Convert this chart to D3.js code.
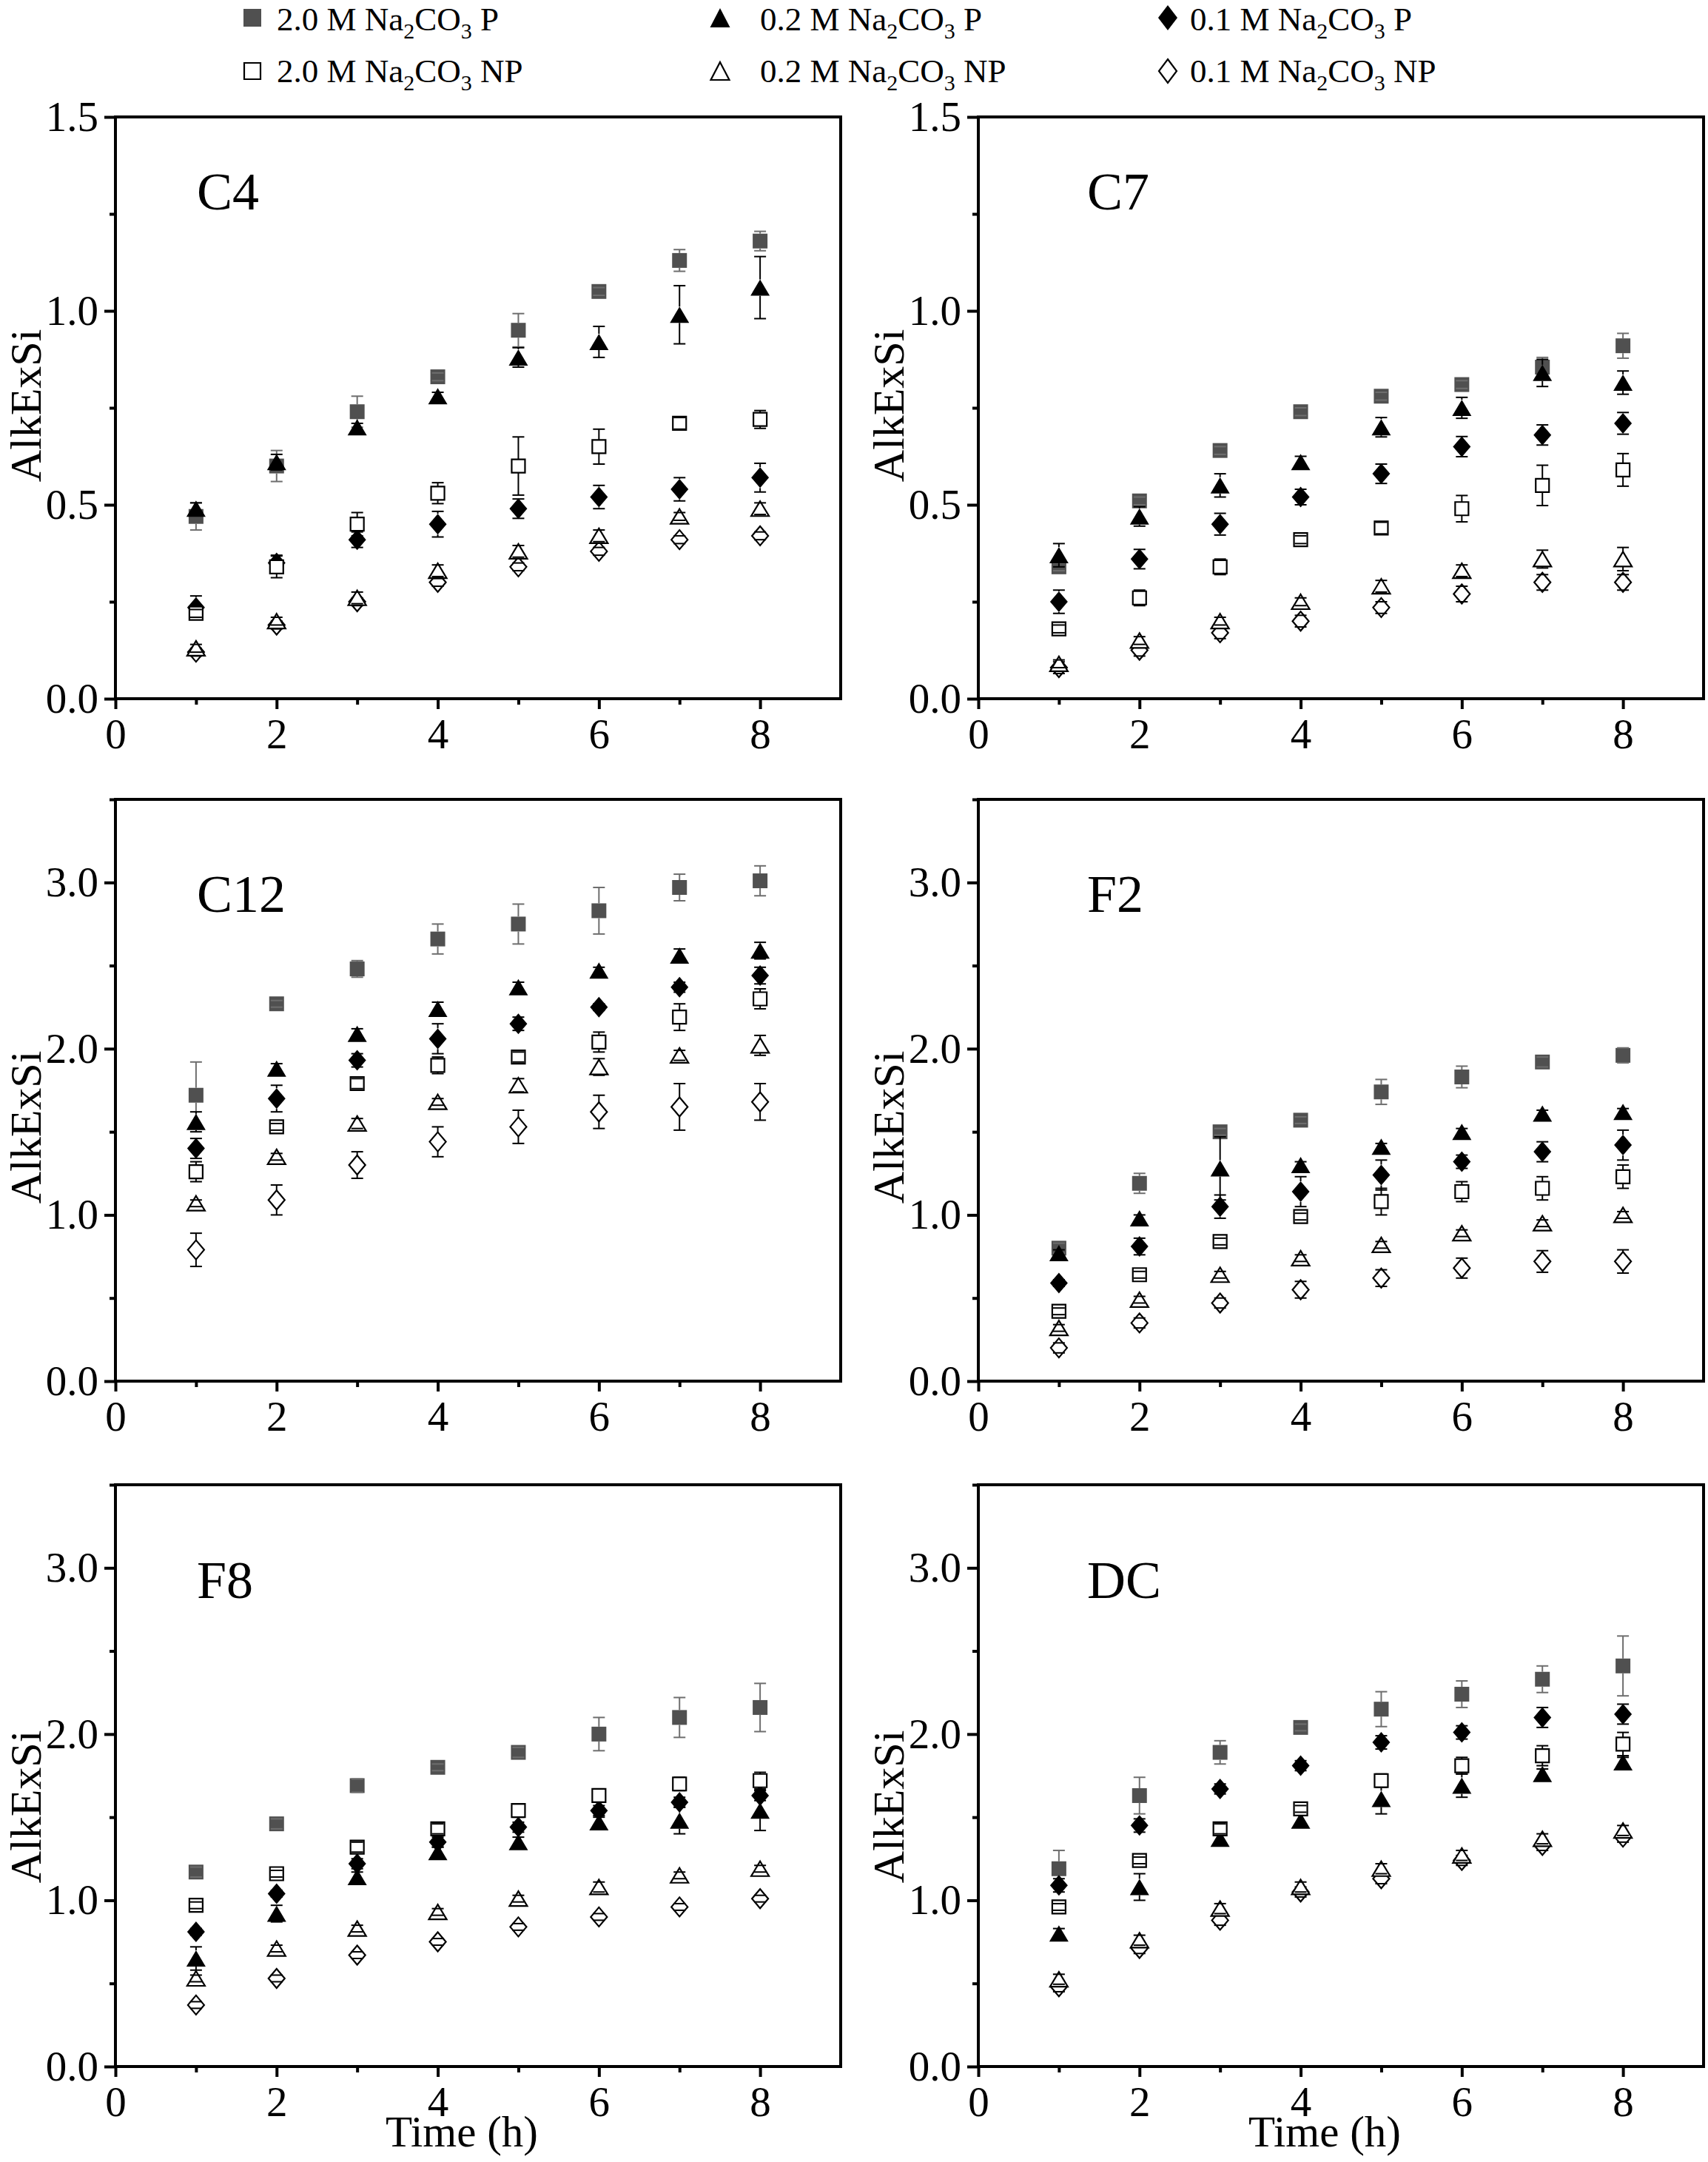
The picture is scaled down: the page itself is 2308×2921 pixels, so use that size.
<!DOCTYPE html>
<html><head><meta charset="utf-8">
<script src="https://cdn.jsdelivr.net/npm/d3@7"></script>
<style>
body{margin:0;background:#fff}
svg, svg text{font-family:"Liberation Serif","Times New Roman",serif;fill:#000}
</style>
</head><body>
<svg id="c" width="2308" height="2921" font-family="Liberation Serif, Times New Roman, serif"></svg>
<script>
// ---------- DATA ----------
const hours = [1, 2, 3, 4, 5, 6, 7, 8];
const seriesConc = ["2.0", "0.2", "0.1", "2.0", "0.2", "0.1"];
const seriesType = ["P", "P", "P", "NP", "NP", "NP"];
const panelNames = ["C4", "C7", "C12", "F2", "F8", "DC"];
const panelYMax = [1.5, 1.5, 3.5, 3.5, 3.5, 3.5];
const smallYTicks = [0, 0.5, 1.0, 1.5];
const smallYMinor = [0.25, 0.75, 1.25];
const largeYTicks = [0, 1, 2, 3];
const largeYMinor = [0.5, 1.5, 2.5, 3.5];
const xTicks = [0, 2, 4, 6, 8];
const xMinor = [1, 3, 5, 7];
const yTitle = "AlkExSi";
const xTitle = "Time (h)";

// series order: 2.0P, 0.2P, 0.1P, 2.0NP, 0.2NP, 0.1NP
const c4Mean = [
  [0.47, 0.60, 0.74, 0.83, 0.95, 1.05, 1.13, 1.18],
  [0.49, 0.61, 0.70, 0.78, 0.88, 0.92, 0.99, 1.06],
  [0.235, 0.35, 0.41, 0.45, 0.49, 0.52, 0.54, 0.57],
  [0.22, 0.34, 0.45, 0.53, 0.60, 0.65, 0.71, 0.72],
  [0.13, 0.20, 0.26, 0.33, 0.38, 0.42, 0.47, 0.49],
  [0.12, 0.19, 0.25, 0.30, 0.34, 0.38, 0.41, 0.42]];
const c4Err = [
  [0.035, 0.04, 0.04, 0.01, 0.043, 0.01, 0.028, 0.025],
  [0.015, 0.02, 0.01, 0.01, 0.025, 0.04, 0.075, 0.08],
  [0.03, 0.02, 0.02, 0.033, 0.025, 0.03, 0.03, 0.037],
  [0.01, 0.028, 0.03, 0.027, 0.075, 0.045, 0.015, 0.023],
  [0.01, 0.01, 0.015, 0.015, 0.015, 0.015, 0.01, 0.015],
  [0.01, 0.01, 0.01, 0.01, 0.01, 0.01, 0.01, 0.01]];
const c7Mean = [
  [0.34, 0.51, 0.64, 0.74, 0.78, 0.81, 0.855, 0.91],
  [0.37, 0.47, 0.55, 0.61, 0.70, 0.75, 0.84, 0.815],
  [0.25, 0.36, 0.45, 0.52, 0.58, 0.65, 0.68, 0.71],
  [0.18, 0.26, 0.34, 0.41, 0.44, 0.49, 0.55, 0.59],
  [0.09, 0.15, 0.20, 0.25, 0.29, 0.33, 0.36, 0.36],
  [0.08, 0.125, 0.17, 0.20, 0.235, 0.27, 0.30, 0.30]];
const c7Err = [
  [0.01, 0.01, 0.01, 0.01, 0.01, 0.01, 0.025, 0.032],
  [0.03, 0.025, 0.03, 0.015, 0.025, 0.027, 0.035, 0.03],
  [0.03, 0.025, 0.028, 0.02, 0.025, 0.026, 0.026, 0.028],
  [0.01, 0.02, 0.02, 0.01, 0.015, 0.034, 0.052, 0.042],
  [0.01, 0.01, 0.01, 0.01, 0.015, 0.015, 0.023, 0.03],
  [0.015, 0.015, 0.015, 0.015, 0.015, 0.02, 0.02, 0.02]];
const c12Mean = [
  [1.72, 2.27, 2.48, 2.66, 2.75, 2.83, 2.97, 3.01],
  [1.56, 1.88, 2.09, 2.24, 2.37, 2.47, 2.56, 2.59],
  [1.40, 1.70, 1.93, 2.06, 2.15, 2.25, 2.37, 2.44],
  [1.26, 1.53, 1.79, 1.90, 1.95, 2.04, 2.19, 2.30],
  [1.07, 1.35, 1.55, 1.68, 1.78, 1.89, 1.96, 2.02],
  [0.79, 1.09, 1.30, 1.44, 1.53, 1.62, 1.65, 1.68]];
const c12Err = [
  [0.2, 0.02, 0.05, 0.09, 0.12, 0.14, 0.08, 0.09],
  [0.06, 0.03, 0.03, 0.04, 0.03, 0.02, 0.04, 0.05],
  [0.06, 0.08, 0.04, 0.09, 0.04, 0.02, 0.03, 0.05],
  [0.06, 0.02, 0.03, 0.05, 0.03, 0.06, 0.08, 0.06],
  [0.02, 0.02, 0.03, 0.02, 0.04, 0.05, 0.03, 0.06],
  [0.1, 0.09, 0.08, 0.09, 0.1, 0.1, 0.14, 0.11]];
const f2Mean = [
  [0.80, 1.19, 1.50, 1.57, 1.74, 1.83, 1.92, 1.96],
  [0.77, 0.98, 1.28, 1.30, 1.41, 1.50, 1.61, 1.62],
  [0.59, 0.81, 1.05, 1.14, 1.24, 1.32, 1.38, 1.42],
  [0.42, 0.64, 0.84, 0.99, 1.08, 1.14, 1.16, 1.23],
  [0.32, 0.49, 0.64, 0.74, 0.82, 0.89, 0.95, 1.00],
  [0.20, 0.35, 0.47, 0.55, 0.62, 0.68, 0.72, 0.72]];
const f2Err = [
  [0.03, 0.06, 0.02, 0.02, 0.075, 0.065, 0.03, 0.045],
  [0.02, 0.02, 0.19, 0.02, 0.02, 0.02, 0.02, 0.02],
  [0.02, 0.05, 0.07, 0.09, 0.09, 0.04, 0.06, 0.09],
  [0.02, 0.02, 0.02, 0.02, 0.08, 0.06, 0.07, 0.07],
  [0.02, 0.02, 0.02, 0.02, 0.02, 0.02, 0.02, 0.02],
  [0.03, 0.03, 0.03, 0.05, 0.05, 0.06, 0.065, 0.07]];
const f8Mean = [
  [1.17, 1.46, 1.69, 1.80, 1.89, 2.00, 2.10, 2.16],
  [0.65, 0.92, 1.14, 1.29, 1.35, 1.47, 1.48, 1.54],
  [0.81, 1.04, 1.22, 1.35, 1.44, 1.54, 1.59, 1.63],
  [0.97, 1.16, 1.32, 1.43, 1.54, 1.63, 1.70, 1.72],
  [0.53, 0.71, 0.83, 0.93, 1.01, 1.08, 1.15, 1.19],
  [0.37, 0.53, 0.67, 0.75, 0.84, 0.90, 0.96, 1.01]];
const f8Err = [
  [0.03, 0.03, 0.04, 0.02, 0.03, 0.1, 0.12, 0.145],
  [0.07, 0.05, 0.03, 0.03, 0.03, 0.03, 0.08, 0.12],
  [0.02, 0.02, 0.03, 0.03, 0.03, 0.03, 0.03, 0.03],
  [0.02, 0.02, 0.03, 0.03, 0.04, 0.04, 0.04, 0.05],
  [0.02, 0.02, 0.02, 0.02, 0.02, 0.03, 0.02, 0.02],
  [0.02, 0.02, 0.02, 0.02, 0.02, 0.02, 0.02, 0.02]];
const dcMean = [
  [1.19, 1.63, 1.89, 2.04, 2.15, 2.24, 2.33, 2.41],
  [0.80, 1.08, 1.37, 1.48, 1.61, 1.69, 1.76, 1.83],
  [1.09, 1.45, 1.67, 1.81, 1.95, 2.01, 2.10, 2.12],
  [0.96, 1.24, 1.43, 1.55, 1.72, 1.81, 1.87, 1.94],
  [0.525, 0.76, 0.95, 1.08, 1.19, 1.27, 1.37, 1.42],
  [0.48, 0.71, 0.88, 1.05, 1.13, 1.24, 1.33, 1.38]];
const dcErr = [
  [0.11, 0.11, 0.07, 0.02, 0.105, 0.08, 0.08, 0.18],
  [0.03, 0.08, 0.02, 0.03, 0.09, 0.07, 0.03, 0.03],
  [0.04, 0.04, 0.03, 0.03, 0.04, 0.04, 0.06, 0.06],
  [0.02, 0.02, 0.03, 0.02, 0.04, 0.05, 0.06, 0.07],
  [0.03, 0.03, 0.03, 0.03, 0.03, 0.03, 0.03, 0.03],
  [0.03, 0.03, 0.03, 0.03, 0.03, 0.03, 0.03, 0.03]];

const panelMeans = [c4Mean, c7Mean, c12Mean, f2Mean, f8Mean, dcMean];
const panelErrs = [c4Err, c7Err, c12Err, f2Err, f8Err, dcErr];

// ---------- STYLE / LAYOUT ----------
const FONT = "Liberation Serif, Times New Roman, serif";
const styles = [
  {shape: "square", fill: "#505050", stroke: "none", bar: "#6e6e6e", w: 20, h: 20},
  {shape: "triangle", fill: "#000", stroke: "none", bar: "#000", w: 26, h: 22},
  {shape: "diamond", fill: "#000", stroke: "none", bar: "#000", w: 24, h: 28},
  {shape: "square", fill: "#fff", stroke: "#000", bar: "#000", w: 18, h: 18},
  {shape: "triangle", fill: "#fff", stroke: "#000", bar: "#000", w: 24, h: 20},
  {shape: "diamond", fill: "#fff", stroke: "#000", bar: "#000", w: 22, h: 26}];
const drawOrder = [0, 1, 2, 3, 5, 4];

const colLeft = [156, 1322], colWidth = 980;
const rowTop = [158, 1080, 2006], rowHeight = 786;
const labelDx = [110, 147];
const labelDy = [125, 152, 153];
const titleDy = [-3, 50, 42];
const tickFont = 57;

function shapePath(shape, w, h) {
  const a = w / 2, b = h / 2;
  if (shape === "square") return `M${-a},${-b}H${a}V${b}H${-a}Z`;
  if (shape === "triangle") return `M0,${-b}L${a},${b}L${-a},${b}Z`;
  return `M0,${-b}L${a},0L0,${b}L${-a},0Z`;
}

const svg = d3.select("#c");

// ---------- LEGEND ----------
const legCol = [341, 973, 1578];
const legTextX = [374, 1027, 1608];
const legRow = [24, 96];
const legBase = [41, 111];
const legSize = [{w: 24, h: 24}, {w: 27, h: 26}, {w: 26, h: 34}];
seriesConc.forEach((c, i) => {
  const col = i % 3, row = Math.floor(i / 3);
  const st = styles[i];
  svg.append("path")
    .attr("d", shapePath(st.shape, legSize[col].w - (row ? 2 : 0), legSize[col].h - (row ? 2 : 0)))
    .attr("transform", `translate(${legCol[col]},${legRow[row]})`)
    .attr("fill", st.fill).attr("stroke", st.stroke).attr("stroke-width", 2.2);
  const t = svg.append("text").attr("x", legTextX[col]).attr("y", legBase[row])
    .attr("font-family", FONT).attr("font-size", 45);
  t.append("tspan").text(`${c} M Na`);
  t.append("tspan").attr("font-size", 30).attr("dy", 11).text("2");
  t.append("tspan").attr("dy", -11).text("CO");
  t.append("tspan").attr("font-size", 30).attr("dy", 11).text("3");
  t.append("tspan").attr("dy", -11).text(` ${seriesType[i]}`);
});

// ---------- PANELS ----------
panelNames.forEach((name, pi) => {
  const col = pi % 2, row = Math.floor(pi / 2);
  const L = colLeft[col], T = rowTop[row];
  const x = d3.scaleLinear().domain([0, 9]).range([L, L + colWidth]);
  const y = d3.scaleLinear().domain([0, panelYMax[pi]]).range([T + rowHeight, T]);
  const small = panelYMax[pi] < 2;
  const g = svg.append("g");

  function styleAxis(a, labelled) {
    a.attr("font-family", FONT).attr("font-size", tickFont);
    a.select(".domain").remove();
    a.selectAll("line").attr("stroke", "#000").attr("stroke-width", 4);
    if (labelled) a.selectAll("text").attr("font-size", tickFont).attr("font-family", FONT).attr("fill", "#000");
  }

  // y axis
  const ya = g.append("g").attr("transform", `translate(${L},0)`)
    .call(d3.axisLeft(y).tickValues(small ? smallYTicks : largeYTicks)
      .tickSize(15).tickPadding(8).tickFormat(d3.format(".1f")));
  styleAxis(ya, true);
  const ym = g.append("g").attr("transform", `translate(${L},0)`)
    .call(d3.axisLeft(y).tickValues(small ? smallYMinor : largeYMinor).tickSize(8).tickFormat(""));
  styleAxis(ym, false);

  // x axis
  const xa = g.append("g").attr("transform", `translate(0,${T + rowHeight})`)
    .call(d3.axisBottom(x).tickValues(xTicks).tickSize(14).tickPadding(13).tickFormat(d3.format("d")));
  styleAxis(xa, true);
  const xm = g.append("g").attr("transform", `translate(0,${T + rowHeight})`)
    .call(d3.axisBottom(x).tickValues(xMinor).tickSize(8).tickFormat(""));
  styleAxis(xm, false);

  // frame
  g.append("rect").attr("x", x(0)).attr("y", y(panelYMax[pi]))
    .attr("width", x(9) - x(0)).attr("height", y(0) - y(panelYMax[pi]))
    .attr("fill", "none").attr("stroke", "#000").attr("stroke-width", 4);

  // panel label
  g.append("text").attr("x", L + labelDx[col]).attr("y", T + labelDy[row])
    .attr("font-family", FONT).attr("font-size", 72).text(name);

  // y title
  const cy = (y(0) + y(panelYMax[pi])) / 2 + titleDy[row];
  g.append("text").attr("transform", `translate(${L - 101},${cy}) rotate(-90)`)
    .attr("text-anchor", "middle").attr("font-family", FONT).attr("font-size", 60).text(yTitle);

  // x title on bottom row
  if (row === 2) {
    g.append("text").attr("x", (x(0) + x(9)) / 2 - 22).attr("y", T + rowHeight + 108)
      .attr("text-anchor", "middle").attr("font-family", FONT).attr("font-size", 59).text(xTitle);
  }

  // data
  const means = panelMeans[pi], errs = panelErrs[pi];
  drawOrder.forEach(si => {
    const st = styles[si];
    const pts = hours.map((h, k) => ({h, v: means[si][k], e: errs[si][k]}));
    const sg = g.append("g");
    sg.selectAll("path.m").data(pts).join("path").attr("class", "m")
      .attr("d", shapePath(st.shape, st.w, st.h))
      .attr("transform", d => `translate(${x(d.h)},${y(d.v)})`)
      .attr("fill", st.fill).attr("stroke", st.stroke).attr("stroke-width", 2.2);
    const hh = st.h / 2;
    pts.forEach(d => {
      const cx = x(d.h), yc = y(d.v), yt = y(d.v + d.e), yb = y(d.v - d.e);
      if (yt < yc - hh) sg.append("line").attr("x1", cx).attr("x2", cx).attr("y1", yt).attr("y2", yc - hh)
        .attr("stroke", st.bar).attr("stroke-width", 2);
      if (yb > yc + hh) sg.append("line").attr("x1", cx).attr("x2", cx).attr("y1", yc + hh).attr("y2", yb)
        .attr("stroke", st.bar).attr("stroke-width", 2);
      [yt, yb].forEach(yy => sg.append("line").attr("x1", cx - 8).attr("x2", cx + 8)
        .attr("y1", yy).attr("y2", yy).attr("stroke", st.bar).attr("stroke-width", 2));
    });
  });
});
</script>
</body></html>
